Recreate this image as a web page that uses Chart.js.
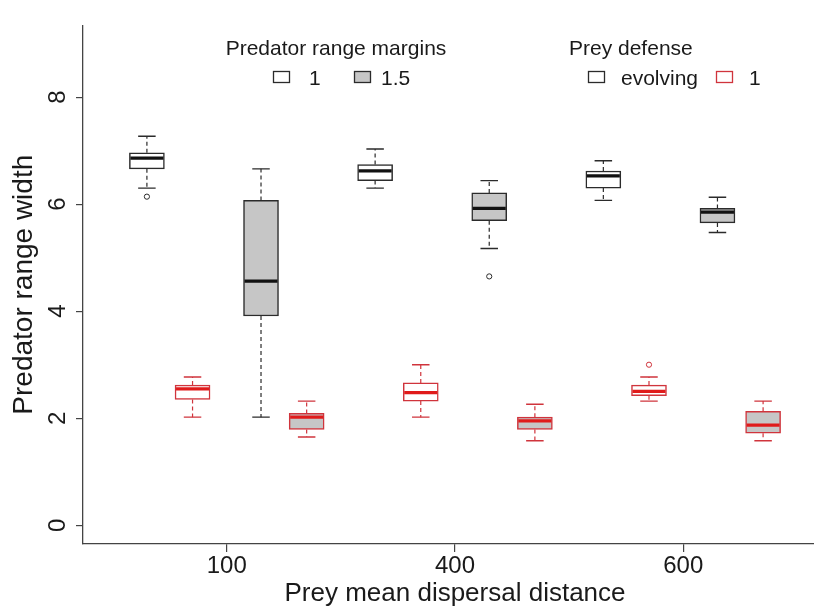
<!DOCTYPE html>
<html>
<head>
<meta charset="utf-8">
<script src="https://cdn.jsdelivr.net/npm/chart.js@4/dist/chart.umd.min.js"></script>
<style>
  html, body { margin: 0; padding: 0; background: #fff; overflow: hidden; }
  #wrap { width: 814px; height: 608px; overflow: hidden; }
</style>
</head>
<body>
<div id="wrap"><canvas id="chart" width="832" height="608"></canvas></div>
<script>
// groups on the x axis (prey mean dispersal distance)
const groupLabels = ['100', '400', '600'];
const groupPos = [1, 2, 3];

// series: predator range margin x prey defense
const seriesNames = ['margin 1 / evolving', 'margin 1 / prey 1', 'margin 1.5 / evolving', 'margin 1.5 / prey 1'];

// box stats, one row per series, one value per group
const whiskerLow = [
  [6.30, 6.30, 6.07],
  [2.02, 2.02, 2.32],
  [2.02, 5.17, 5.47],
  [1.65, 1.58, 1.58],
];
const boxLow = [
  [6.66, 6.44, 6.30],
  [2.35, 2.32, 2.42],
  [3.91, 5.69, 5.65],
  [1.79, 1.79, 1.72],
];
const medians = [
  [6.86, 6.62, 6.53],
  [2.55, 2.48, 2.50],
  [4.56, 5.92, 5.85],
  [2.02, 1.95, 1.87],
];
const boxHigh = [
  [6.96, 6.74, 6.62],
  [2.62, 2.66, 2.62],
  [6.07, 6.21, 5.92],
  [2.09, 2.02, 2.13],
];
const whiskerHigh = [
  [7.27, 7.03, 6.81],
  [2.77, 3.00, 2.77],
  [6.66, 6.44, 6.13],
  [2.32, 2.26, 2.32],
];

// outliers: series index, group index, value
const outlierSeries = [0, 2, 1];
const outlierGroup = [0, 1, 2];
const outlierValues = [6.14, 4.65, 3.00];

const yTicks = [0, 2, 4, 6, 8];

// styling
const FONT = '"Liberation Sans", Arial, Helvetica, sans-serif';
const BLACK = '#2b2b2b';
const RED = '#d0343c';
const RED_MED = '#e01b1b';
const GRAY = '#c6c6c6';
const boxOffsets = [-0.35, -0.15, 0.15, 0.35];
const lineColors = [BLACK, RED, BLACK, RED];
const medColors = ['#111', RED_MED, '#111', RED_MED];
const fills = ['#ffffff', '#ffffff', GRAY, GRAY];
const BOX_W = 35;

const boxDatasets = seriesNames.map((name, s) => ({
  type: 'bar',
  label: name,
  data: groupPos.map((g, i) => ({ x: g + boxOffsets[s], y: [boxLow[s][i], boxHigh[s][i]] })),
  backgroundColor: fills[s],
  borderColor: lineColors[s],
  borderWidth: 1.5,
  borderSkipped: false,
  barThickness: BOX_W,
  grouped: false,
  order: 2,
}));

const outlierDatasets = seriesNames.map((name, s) => ({
  type: 'scatter',
  label: name + ' outliers',
  data: outlierValues
    .map((v, k) => ({ s: outlierSeries[k], x: groupPos[outlierGroup[k]] + boxOffsets[outlierSeries[k]], y: v }))
    .filter(p => p.s === s),
  pointRadius: 2.6,
  pointBorderWidth: 1,
  pointBorderColor: lineColors[s],
  pointBackgroundColor: '#fff',
  order: 1,
}));

// whiskers, staples and medians drawn on top of the boxes
const boxExtras = {
  id: 'boxExtras',
  afterDatasetsDraw(chart) {
    const { ctx, scales: { x, y } } = chart;
    ctx.save();
    seriesNames.forEach((_, s) => {
      groupPos.forEach((g, i) => {
        const px = x.getPixelForValue(g + boxOffsets[s]);
        const yLo = y.getPixelForValue(whiskerLow[s][i]);
        const yQ1 = y.getPixelForValue(boxLow[s][i]);
        const yQ3 = y.getPixelForValue(boxHigh[s][i]);
        const yHi = y.getPixelForValue(whiskerHigh[s][i]);
        const yMed = y.getPixelForValue(medians[s][i]);
        ctx.strokeStyle = lineColors[s];
        // dashed whiskers
        ctx.lineWidth = 1.2;
        ctx.setLineDash([4, 3]);
        ctx.beginPath();
        ctx.moveTo(px, yQ3); ctx.lineTo(px, yHi);
        ctx.moveTo(px, yQ1); ctx.lineTo(px, yLo);
        ctx.stroke();
        // staples
        ctx.setLineDash([]);
        ctx.lineWidth = 1.4;
        ctx.beginPath();
        ctx.moveTo(px - BOX_W / 4, yHi); ctx.lineTo(px + BOX_W / 4, yHi);
        ctx.moveTo(px - BOX_W / 4, yLo); ctx.lineTo(px + BOX_W / 4, yLo);
        ctx.stroke();
        // median
        ctx.strokeStyle = medColors[s];
        ctx.lineWidth = 3.2;
        ctx.beginPath();
        ctx.moveTo(px - BOX_W / 2 + 1, yMed); ctx.lineTo(px + BOX_W / 2 - 1, yMed);
        ctx.stroke();
      });
    });
    ctx.restore();
  }
};

// two titled legends at the top of the plot
const topLegends = {
  id: 'topLegends',
  afterDraw(chart) {
    const { ctx } = chart;
    ctx.save();
    ctx.font = '21px ' + FONT;
    ctx.fillStyle = '#1a1a1a';
    ctx.textBaseline = 'alphabetic';
    ctx.textAlign = 'center';
    ctx.fillText('Predator range margins', 336, 55);
    ctx.textAlign = 'left';
    ctx.fillText('Prey defense', 569, 55);
    const swatch = (x0, fill, stroke) => {
      ctx.fillStyle = fill;
      ctx.fillRect(x0, 71, 16, 11);
      ctx.strokeStyle = stroke;
      ctx.lineWidth = 1.3;
      ctx.strokeRect(x0 + 0.5, 71.5, 16, 11);
    };
    swatch(273, '#fff', BLACK);
    swatch(354, GRAY, BLACK);
    swatch(588, '#fff', BLACK);
    swatch(716, '#fff', RED);
    ctx.fillStyle = '#1a1a1a';
    ctx.fillText('1', 309, 85);
    ctx.fillText('1.5', 381, 85);
    ctx.fillText('evolving', 621, 85);
    ctx.fillText('1', 749, 85);
    ctx.restore();
  }
};

new Chart(document.getElementById('chart'), {
  type: 'bar',
  data: { datasets: [...boxDatasets, ...outlierDatasets] },
  options: {
    responsive: false,
    animation: false,
    layout: { padding: { top: 13, right: 5, left: 0, bottom: 0 } },
    plugins: { legend: { display: false }, tooltip: { enabled: false } },
    scales: {
      x: {
        type: 'linear',
        offset: false,
        min: 0.37,
        max: 3.63,
        afterBuildTicks: (s) => { s.ticks = groupPos.map(v => ({ value: v })); },
        afterFit: (s) => { s.height = 64; },
        ticks: {
          callback: (v) => groupLabels[groupPos.indexOf(v)],
          font: { size: 24, family: FONT },
          color: '#1a1a1a',
          padding: 0,
          maxRotation: 0,
        },
        grid: { display: true, offset: false, drawOnChartArea: false, drawTicks: true, tickLength: 8, color: '#444', lineWidth: 1.2 },
        border: { display: true, color: '#444', width: 1.3 },
        title: {
          display: true,
          text: 'Prey mean dispersal distance',
          font: { size: 26, family: FONT },
          color: '#1a1a1a',
          padding: { top: 0, bottom: -1.5 },
        },
      },
      y: {
        type: 'linear',
        min: -0.35,
        max: 9.34,
        afterBuildTicks: (s) => { s.ticks = yTicks.map(v => ({ value: v })); },
        afterFit: (s) => { s.width = 83; },
        ticks: {
          font: { size: 24, family: FONT },
          color: '#1a1a1a',
          minRotation: 90,
          maxRotation: 90,
          crossAlign: 'center',
          padding: 11,
        },
        grid: { display: true, drawOnChartArea: false, drawTicks: true, tickLength: 7, color: '#444', lineWidth: 1.2 },
        border: { display: true, color: '#444', width: 1.3 },
        title: {
          display: true,
          text: 'Predator range width',
          font: { size: 28, family: FONT },
          color: '#1a1a1a',
          padding: { top: 7, bottom: 0 },
        },
      },
    },
  },
  plugins: [boxExtras, topLegends],
});
</script>
</body>
</html>
